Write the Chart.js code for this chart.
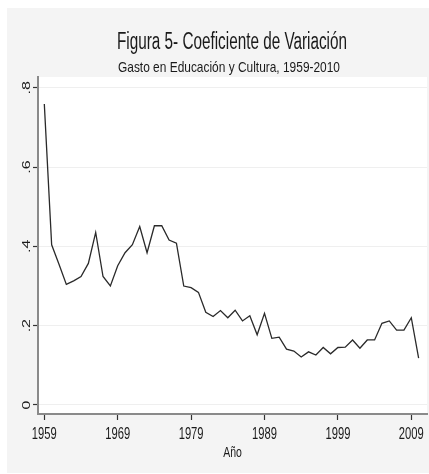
<!DOCTYPE html>
<html>
<head>
<meta charset="utf-8">
<script src="https://cdn.jsdelivr.net/npm/chart.js@4.4.0/dist/chart.umd.min.js"></script>
<style>
  html, body { margin: 0; padding: 0; background: #fff; }
  #cvChart { display: block; }
</style>
</head>
<body>
<canvas id="cvChart" width="429" height="474"></canvas>
<script>
// datos
const years = [1959, 1960, 1961, 1962, 1963, 1964, 1965, 1966, 1967, 1968,
               1969, 1970, 1971, 1972, 1973, 1974, 1975, 1976, 1977, 1978,
               1979, 1980, 1981, 1982, 1983, 1984, 1985, 1986, 1987, 1988,
               1989, 1990, 1991, 1992, 1993, 1994, 1995, 1996, 1997, 1998,
               1999, 2000, 2001, 2002, 2003, 2004, 2005, 2006, 2007, 2008,
               2009, 2010];
const cv = [0.759, 0.404, 0.355, 0.304, 0.313, 0.324, 0.357, 0.435, 0.324, 0.300,
            0.351, 0.384, 0.404, 0.450, 0.384, 0.452, 0.452, 0.416, 0.408, 0.300,
            0.296, 0.284, 0.234, 0.223, 0.238, 0.220, 0.239, 0.212, 0.225, 0.177,
            0.231, 0.168, 0.171, 0.141, 0.136, 0.121, 0.134, 0.126, 0.145, 0.129,
            0.145, 0.146, 0.164, 0.143, 0.164, 0.164, 0.206, 0.212, 0.189, 0.189,
            0.220, 0.118];
const xTicks = [1959, 1969, 1979, 1989, 1999, 2009];
const xTickLabels = ['1959', '1969', '1979', '1989', '1999', '2009'];
const yTicks = [0, 0.2, 0.4, 0.6, 0.8];
const yTickLabels = ['0', '.2', '.4', '.6', '.8'];

const titulo = 'Figura 5- Coeficiente de Variación';
const subtitulo = 'Gasto en Educación y Cultura, 1959-2010';
const xTitulo = 'Año';

const FONT = '"Liberation Sans", Arial, sans-serif';
const SQ = 0.7; // el grafico original esta comprimido en horizontal

// texto comprimido en horizontal
function textoSq(ctx, txt, x, y, rot) {
    ctx.save();
    ctx.translate(x, y);
    ctx.scale(SQ, 1);
    if (rot) ctx.rotate(rot);
    ctx.fillText(txt, 0, 0);
    ctx.restore();
}

// fondo gris y area blanca
const fondoPlugin = {
    id: 'fondo',
    beforeDraw(chart) {
        const ctx = chart.ctx;
        const a = chart.chartArea;
        ctx.save();
        ctx.fillStyle = '#f4f4f4';
        ctx.fillRect(7, 8, chart.width - 7, chart.height - 9);
        ctx.fillStyle = '#ffffff';
        ctx.fillRect(a.left, a.top, a.right - a.left, a.bottom - a.top);
        ctx.restore();
    }
};

// titulos y etiquetas de los ejes
const textosPlugin = {
    id: 'textos',
    afterDraw(chart) {
        const ctx = chart.ctx;
        const y = chart.scales.y;
        const x = chart.scales.x;
        const a = chart.chartArea;
        ctx.save();
        ctx.fillStyle = '#1a1a1a';
        ctx.textAlign = 'center';
        ctx.textBaseline = 'alphabetic';

        ctx.font = '23px ' + FONT;
        ctx.fillText(titulo, 232, 49, 230);
        ctx.font = '15px ' + FONT;
        ctx.fillText(subtitulo, 229, 72, 222);

        ctx.font = '16px ' + FONT;
        xTicks.forEach(function (v, i) {
            textoSq(ctx, xTickLabels[i], x.getPixelForValue(v), 439);
        });

        ctx.font = '15px ' + FONT;
        textoSq(ctx, xTitulo, (a.left + a.right) / 2, 457);

        ctx.font = '16px ' + FONT;
        ctx.textBaseline = 'middle';
        yTicks.forEach(function (v, i) {
            textoSq(ctx, yTickLabels[i], 27, y.getPixelForValue(v), -Math.PI / 2);
        });
        ctx.restore();
    }
};

const ctx = document.getElementById('cvChart').getContext('2d');
new Chart(ctx, {
    type: 'line',
    data: {
        datasets: [{
            label: 'CV',
            data: years.map(function (yr, i) { return { x: yr, y: cv[i] }; }),
            borderColor: '#2a2a2a',
            borderWidth: 1.3,
            pointRadius: 0,
            tension: 0,
            fill: false
        }]
    },
    options: {
        responsive: false,
        animation: false,
        devicePixelRatio: 1,
        layout: { padding: { top: 77, right: 2, left: 0, bottom: 0 } },
        plugins: {
            legend: { display: false },
            tooltip: { enabled: false },
            title: { display: false }
        },
        scales: {
            x: {
                type: 'linear',
                min: 1958.14,
                max: 2011.14,
                afterBuildTicks: function (scale) {
                    scale.ticks = xTicks.map(function (v) { return { value: v }; });
                },
                afterFit: function (scale) { scale.height = 60; },
                ticks: { display: false },
                grid: {
                    drawOnChartArea: false,
                    drawTicks: true,
                    tickLength: 6,
                    tickColor: '#333',
                    tickWidth: 1.2
                },
                border: { color: '#8a8a8a', width: 2 }
            },
            y: {
                min: -0.0227,
                max: 0.827,
                afterBuildTicks: function (scale) {
                    scale.ticks = yTicks.map(function (v) { return { value: v }; });
                },
                afterFit: function (scale) { scale.width = 38; },
                ticks: { display: false },
                grid: {
                    color: '#efefef',
                    lineWidth: 1,
                    drawTicks: true,
                    tickLength: 5,
                    tickColor: '#333',
                    tickWidth: 1.2
                },
                border: { color: '#8a8a8a', width: 2 }
            }
        }
    },
    plugins: [fondoPlugin, textosPlugin]
});
</script>
</body>
</html>
